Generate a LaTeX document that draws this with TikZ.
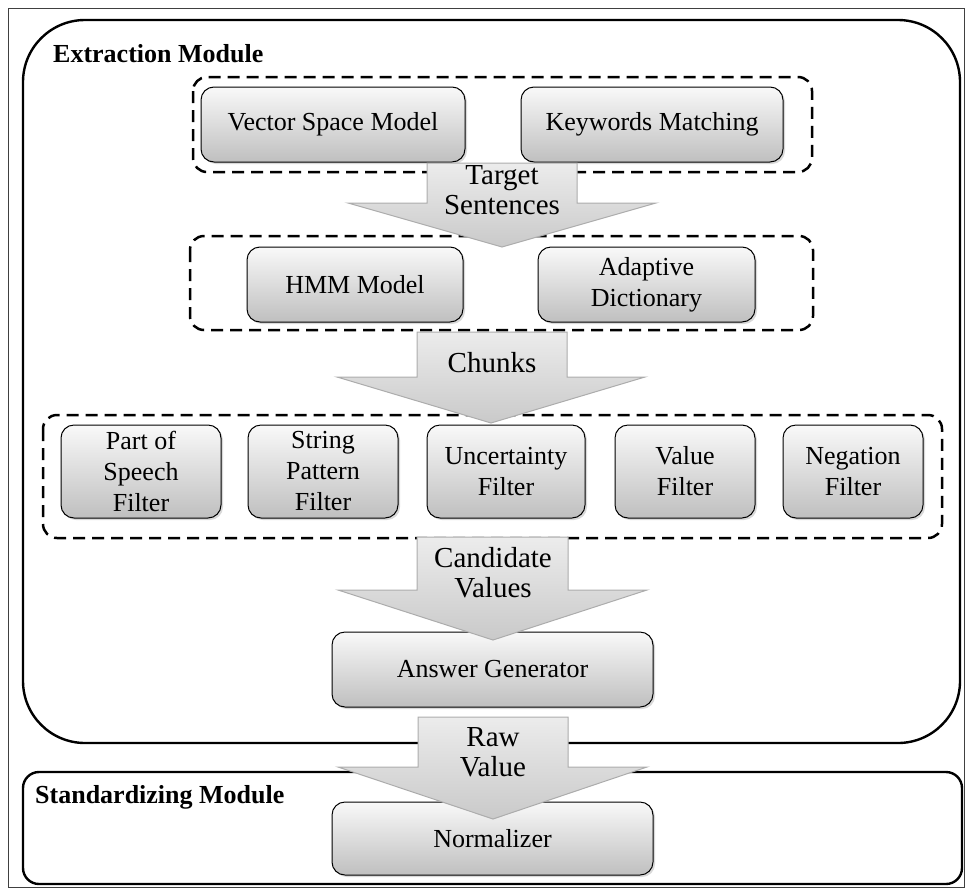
\documentclass[tikz,border=0pt]{standalone}
\usepackage{fontspec}
\setmainfont{Liberation Serif}
\usepackage{tikz}
\usetikzlibrary{shadows}
\usetikzlibrary{positioning}

\begin{document}
\begin{tikzpicture}[x=1pt,y=-1pt]
\tikzset{
    module/.style = {draw=black, line width=2.4pt},
    group/.style = {draw=black, line width=2.5pt, dash pattern=on 12pt off 7pt, rounded corners=14pt},
    procnode/.style = {rectangle, rounded corners=13pt, draw=black, line width=1pt, top color=gray!5, bottom color=gray!50, align=center, font=\fontsize{26}{31}\selectfont, inner sep=0pt, drop shadow={shadow xshift=2pt, shadow yshift=-2pt, opacity=0.3}},
    bigarrow/.style = {draw=gray!65, line width=1pt, top color=gray!15, bottom color=gray!42},
    arrowlabel/.style = {align=center, font=\fontsize{29}{30}\selectfont, inner sep=0pt},
    modlabel/.style = {anchor=base west, font=\bfseries\fontsize{26}{28}\selectfont, inner sep=0pt}
}
\useasboundingbox (0,0) rectangle (965,894);
\draw[gray!50!black, line width=0.8pt] (8,8) rectangle (964,887);
%
\draw[module, rounded corners=62pt] (23,20) rectangle (960,743);
\draw[module, rounded corners=16pt] (23,772) rectangle (962,884);
\node[modlabel] at (53,62) (extraction) {Extraction Module};
\node[modlabel] at (35,803) (standardizing) {Standardizing Module};
%
\draw[group] (193,77) rectangle (812,172);
\draw[group] (190,236) rectangle (813,330);
\draw[group] (43,415) rectangle (942,538);
%
\node[procnode, minimum width=264pt, minimum height=75pt] at (333,124.5) (vsm) {Vector Space Model};
\node[procnode, minimum width=262pt, minimum height=75pt] at (652,124.5) (kwm) {Keywords Matching};
\node[procnode, minimum width=216pt, minimum height=75pt] at (355,284.5) (hmm) {HMM Model};
\node[procnode, minimum width=217pt, minimum height=75pt] at (646.5,284.5) (adict) {Adaptive\\Dictionary};
%
\node[procnode, minimum width=160pt, minimum height=93pt] at (141,471.5) (pos) {Part of\\Speech\\Filter};
\node[procnode, minimum width=150pt, minimum height=93pt] at (323,471.5) (spf) {String\\Pattern\\Filter};
\node[procnode, minimum width=158pt, minimum height=93pt] at (506,471.5) (unc) {Uncertainty\\Filter};
\node[procnode, minimum width=140pt, minimum height=93pt] at (685,471.5) (valf) {Value\\Filter};
\node[procnode, minimum width=140pt, minimum height=93pt] at (853,471.5) (negf) {Negation\\Filter};
%
\node[procnode, minimum width=321pt, minimum height=75pt] at (492.5,669.5) (answer) {Answer Generator};
\node[procnode, minimum width=321pt, minimum height=73pt] at (492.5,838.5) (norm) {Normalizer};
%
\draw[bigarrow] (427,163) -- (577,163) -- (577,203) -- (656,203) -- (502,247) -- (348,203) -- (427,203) -- cycle;
\draw[bigarrow] (417,332) -- (567,332) -- (567,377) -- (645,377) -- (491,423) -- (337,377) -- (417,377) -- cycle;
\draw[bigarrow] (417,537) -- (568,537) -- (568,590) -- (647,590) -- (493,640) -- (338,590) -- (417,590) -- cycle;
\draw[bigarrow] (418,717) -- (568,717) -- (568,767) -- (647,767) -- (493,819) -- (338,767) -- (418,767) -- cycle;
%
\node[arrowlabel] at (502,190.5) (target) {Target\\Sentences};
\node[arrowlabel] at (492,363) (chunks) {Chunks};
\node[arrowlabel] at (493,573) (candidate) {Candidate\\Values};
\node[arrowlabel] at (493,752.5) (raw) {Raw\\Value};
\end{tikzpicture}
\end{document}
